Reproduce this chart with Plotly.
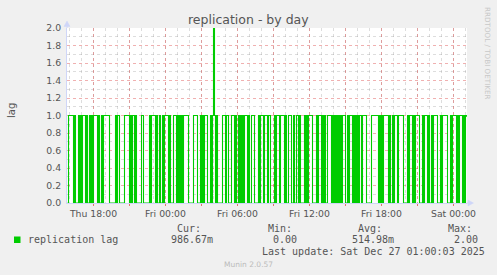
import plotly.graph_objects as go
import pandas as pd

# ---------------- data (5-minute samples) ----------------
series_start = "2025-12-25 15:50"

# Thu 15:50 - Thu 23:55
lag_thu_evening = [
    0, 1, 1, 1, 1, 1, 0, 1, 0, 0,
    0, 1, 0, 1, 0, 1, 1, 1, 0, 1,
    0, 0, 1, 0, 1, 0, 1, 1, 1, 1,
    0, 1, 0, 0, 1, 0, 1, 1, 1, 1,
    1, 1, 0, 0, 0, 0, 0, 0, 1, 0,
    1, 1, 0, 0, 0, 0, 0, 1, 1, 1,
    1, 1, 0, 1, 0, 1, 1, 0, 1, 0,
    0, 0, 0, 0, 1, 1, 0, 0, 0, 0,
    0, 0, 1, 0, 1, 1, 1, 1, 0, 1,
    0, 0, 1, 0, 0, 1, 0, 1,
]
# Fri 00:00 - Fri 05:55
lag_fri_night = [
    1, 1, 1, 0, 1, 0, 0, 0, 1, 1,
    1, 0, 1, 0, 1, 0, 1, 0, 1, 1,
    1, 1, 1, 0, 0, 0, 0, 0, 1, 1,
    1, 1, 0, 0, 0, 1, 0, 1, 0, 1,
    1, 1, 0, 0, 0, 1, 0, 1, 2, 1,
    0, 1, 0, 0, 0, 0, 0, 1, 1, 1,
    0, 1, 1, 0, 0, 0, 1, 1, 1, 0,
    1, 0,
]
# Fri 06:00 - Fri 11:55
lag_fri_morning = [
    0, 1, 0, 1, 0, 1, 0, 1, 1, 1,
    0, 1, 0, 0, 1, 1, 1, 0, 0, 0,
    0, 1, 0, 1, 1, 1, 0, 1, 1, 1,
    0, 1, 1, 0, 0, 0, 0, 1, 0, 1,
    1, 1, 0, 1, 1, 1, 1, 0, 1, 0,
    0, 1, 1, 1, 0, 0, 1, 0, 0, 1,
    1, 0, 1, 0, 0, 0, 0, 1, 0, 1,
    0, 1,
]
# Fri 12:00 - Fri 17:55
lag_fri_afternoon = [
    1, 1, 1, 0, 0, 0, 0, 1, 0, 1,
    1, 1, 0, 1, 0, 1, 0, 0, 1, 1,
    1, 1, 0, 1, 0, 1, 0, 1, 0, 1,
    0, 1, 0, 1, 1, 1, 0, 0, 1, 0,
    1, 1, 1, 0, 1, 0, 1, 0, 1, 0,
    1, 1, 0, 1, 1, 1, 1, 0, 0, 0,
    0, 0, 1, 1, 1, 1, 1, 1, 1, 0,
    1, 0,
]
# Fri 18:00 - Sat 01:05
lag_fri_evening = [
    1, 0, 1, 1, 1, 1, 1, 0, 1, 0,
    0, 1, 0, 1, 1, 1, 0, 1, 1, 1,
    1, 1, 0, 0, 0, 0, 1, 0, 1, 1,
    1, 0, 1, 0, 1, 1, 1, 1, 0, 0,
    0, 1, 0, 1, 1, 1, 0, 1, 0, 0,
    1, 0, 1, 1, 1, 1, 0, 0, 0, 1,
    0, 1, 1, 1, 1, 1, 0, 0, 0, 1,
    0, 1, 1, 1, 1, 0, 1, 0, 1, 1,
    1, 0, 1, 0, 1, 0.98667,
]

lag = lag_thu_evening + lag_fri_night + lag_fri_morning + lag_fri_afternoon + lag_fri_evening
times = pd.date_range(series_start, periods=len(lag), freq="5min")

x_range = ["2025-12-25 15:47:30", "2025-12-27 01:07:30"]
tick_vals = ["2025-12-25 18:00", "2025-12-25 21:00", "2025-12-26 00:00", "2025-12-26 03:00",
             "2025-12-26 06:00", "2025-12-26 09:00", "2025-12-26 12:00", "2025-12-26 15:00",
             "2025-12-26 18:00", "2025-12-26 21:00", "2025-12-27 00:00"]
tick_text = ["Thu 18:00", "", "Fri 00:00", "", "Fri 06:00", "", "Fri 12:00", "",
             "Fri 18:00", "", "Sat 00:00"]

legend_headers = ["Cur:", "Min:", "Avg:", "Max:"]
legend_values = ["986.67m", "0.00", "514.98m", "2.00"]
series_name = "replication lag"
last_update = "Last update: Sat Dec 27 01:00:03 2025"

# ---------------- layout geometry (pixels) ----------------
W, H = 497, 275
L, R, T, B = 67, 467, 28, 203


def px_x(px):
    return (px - L) / (R - L)


def px_y(py):
    return (B - py) / (B - T)


TEXT = "#555555"
AXIS = "#CFD6F8"
GRID = "rgba(150,150,150,0.32)"
MGRID = "rgba(222,80,80,0.45)"
GREEN = "#00CC00"

fig = go.Figure()
fig.add_trace(go.Scatter(x=times, y=lag, mode="lines", line=dict(color=GREEN, width=1.1, shape="hv"),
                         hoverinfo="skip", showlegend=False))

fig.update_layout(
    width=W, height=H,
    margin=dict(l=L, r=W - R, t=T, b=H - B, pad=0),
    paper_bgcolor="#F0F0F0", plot_bgcolor="#FFFFFF",
    font=dict(family="DejaVu Sans", color=TEXT, size=9.3),
    showlegend=False,
)

fig.update_xaxes(
    range=x_range, type="date",
    tickmode="array", tickvals=tick_vals, ticktext=tick_text,
    showgrid=True, gridcolor=MGRID, griddash="dot", gridwidth=1,
    ticks="outside", ticklen=2, tickcolor="rgba(222,80,80,0.8)",
    showline=True, linecolor=AXIS, linewidth=1,
    zeroline=False,
    tickfont=dict(size=9.3, color=TEXT),
    minor=dict(dtick=3600000, tick0="2025-12-25 00:00", showgrid=True, gridcolor=GRID,
               griddash="dot", gridwidth=1),
)
fig.update_yaxes(
    range=[0, 2], dtick=0.2, tick0=0, tickformat=".1f",
    showgrid=True, gridcolor=MGRID, griddash="dot", gridwidth=1,
    ticks="outside", ticklen=3, tickcolor="rgba(0,0,0,0)",
    showline=True, linecolor=AXIS, linewidth=1,
    zeroline=False,
    tickfont=dict(size=9.3, color=TEXT),
    minor=dict(dtick=0.1, tick0=0, showgrid=True, gridcolor=GRID, griddash="dot", gridwidth=1),
)

shapes = []
# y axis extension + arrow
shapes.append(dict(type="line", xref="paper", yref="paper", x0=0, x1=0, y0=1, y1=px_y(25),
                   line=dict(color=AXIS, width=1)))
shapes.append(dict(type="path", xref="paper", yref="paper",
                   path=f"M {px_x(64)} {px_y(26.5)} L {px_x(67)} {px_y(21)} L {px_x(70)} {px_y(26.5)} Z",
                   fillcolor=AXIS, line=dict(color=AXIS, width=0.5)))
# x axis extension + arrow
shapes.append(dict(type="line", xref="paper", yref="paper", x0=1, x1=px_x(469), y0=0, y1=0,
                   line=dict(color=AXIS, width=1)))
shapes.append(dict(type="path", xref="paper", yref="paper",
                   path=f"M {px_x(468)} {px_y(200)} L {px_x(473.5)} {px_y(203)} L {px_x(468)} {px_y(206)} Z",
                   fillcolor=AXIS, line=dict(color=AXIS, width=0.5)))
# legend colour box
shapes.append(dict(type="rect", xref="paper", yref="paper",
                   x0=px_x(14), x1=px_x(20.5), y0=px_y(243), y1=px_y(236.5),
                   fillcolor=GREEN, line=dict(width=0)))
fig.update_layout(shapes=shapes)

ann = []
ann.append(dict(text="replication - by day", x=px_x(248.5), y=px_y(19), xref="paper", yref="paper",
                showarrow=False, xanchor="center", yanchor="middle",
                font=dict(family="DejaVu Sans", size=12.5, color=TEXT)))
ann.append(dict(text="lag", x=px_x(12), y=px_y(110), xref="paper", yref="paper", textangle=-90,
                showarrow=False, xanchor="center", yanchor="middle",
                font=dict(family="DejaVu Sans", size=10, color=TEXT)))
ann.append(dict(text="RRDTOOL / TOBI OETIKER", x=px_x(487.5), y=px_y(53.5), xref="paper", yref="paper",
                textangle=90, showarrow=False, xanchor="center", yanchor="middle",
                font=dict(family="DejaVu Sans", size=7.2, color="#C8C8C8")))

mono = dict(family="DejaVu Sans Mono", size=10, color=TEXT)
ann.append(dict(text=series_name, x=px_x(26), y=px_y(239.5), xref="paper", yref="paper",
                showarrow=False, xanchor="left", yanchor="middle", font=mono))
header_x = [175, 266, 356, 446]
value_x = [169, 271, 350, 452]
for hx, h in zip(header_x, legend_headers):
    ann.append(dict(text=h, x=px_x(hx), y=px_y(228), xref="paper", yref="paper",
                    showarrow=False, xanchor="left", yanchor="middle", font=mono))
for vx, v in zip(value_x, legend_values):
    ann.append(dict(text=v, x=px_x(vx), y=px_y(239.5), xref="paper", yref="paper",
                    showarrow=False, xanchor="left", yanchor="middle", font=mono))
ann.append(dict(text=last_update, x=px_x(260), y=px_y(251), xref="paper", yref="paper",
                showarrow=False, xanchor="left", yanchor="middle", font=mono))
ann.append(dict(text="Munin 2.0.57", x=px_x(248), y=px_y(264), xref="paper", yref="paper",
                showarrow=False, xanchor="center", yanchor="middle",
                font=dict(family="DejaVu Sans", size=7.5, color="#BBBBBB")))
fig.update_layout(annotations=ann)

fig.write_html("out.html")
